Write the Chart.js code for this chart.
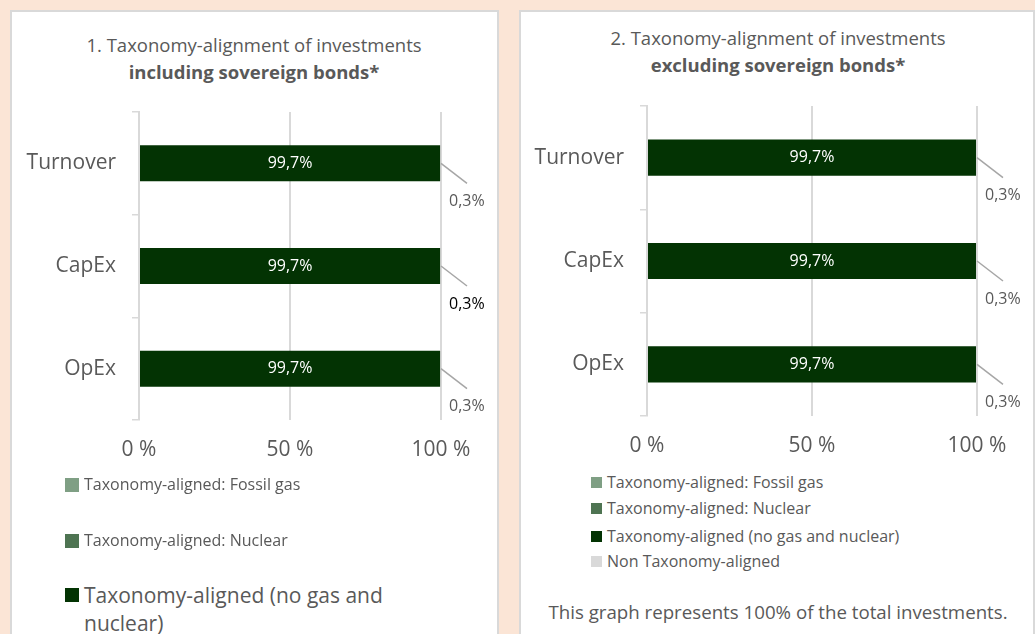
<!DOCTYPE html>
<html>
<head>
<meta charset="utf-8">
<script src="https://cdn.jsdelivr.net/npm/chart.js@4.4.1/dist/chart.umd.min.js"></script>
<style>
  html, body { margin: 0; padding: 0; }
  body { width: 1035px; height: 634px; overflow: hidden; background: #fbe5d6; position: relative; font-family: "Open Sans", sans-serif; color: #595959; }
  .panel { position: absolute; top: 10px; height: 700px; background: #fff; border: 2px solid #d9d9d9; box-sizing: border-box; }
  .title { position: absolute; width: 480px; text-align: center; font-size: 18.5px; line-height: 27px; }
  canvas { position: absolute; }
  .item { position: absolute; white-space: nowrap; }
  .item span.box { position: absolute; left: 0; }
  .note { position: absolute; width: 500px; text-align: center; font-size: 18.7px; line-height: 24px; }
</style>
</head>
<body>
<div class="panel" style="left:10px;width:489px;"></div>
<div class="panel" style="left:519px;width:516px;"></div>

<div class="title" style="left:14px;top:31px;">1. Taxonomy-alignment of investments<br><b>including sovereign bonds*</b></div>
<div class="title" style="left:538px;top:24px;">2. Taxonomy-alignment of investments<br><b>excluding sovereign bonds*</b></div>

<canvas id="c1" width="484" height="380" style="left:12px;top:96px;"></canvas>
<canvas id="c2" width="512" height="380" style="left:521px;top:90px;"></canvas>

<div id="legend1"></div>
<div id="legend2"></div>
<div class="note" style="left:528px;top:600px;">This graph represents 100% of the total investments.</div>

<script>
const categories = ['Turnover', 'CapEx', 'OpEx'];
const seriesNames = [
  'Taxonomy-aligned: Fossil gas',
  'Taxonomy-aligned: Nuclear',
  'Taxonomy-aligned (no gas and nuclear)',
  'Non Taxonomy-aligned'
];
const seriesColors = ['#7f9f84', '#4e7452', '#033303', '#d9d9d9'];
const xTicks = [0, 50, 100];

// 1. including sovereign bonds
const incFossil = [0, 0, 0];
const incNuclear = [0, 0, 0];
const incAligned = [99.7, 99.7, 99.7];
const incNon = [0.3, 0.3, 0.3];

// 2. excluding sovereign bonds
const excFossil = [0, 0, 0];
const excNuclear = [0, 0, 0];
const excAligned = [99.7, 99.7, 99.7];
const excNon = [0.3, 0.3, 0.3];

Chart.defaults.font.family = '"Open Sans", sans-serif';
Chart.defaults.color = '#595959';

const fmt = v => String(v).replace('.', ',') + '%';

// labels inside the bars and the small ones with a leader line
const barLabels = {
  id: 'barLabels',
  afterDatasetsDraw(chart, args, opts) {
    const ctx = chart.ctx;
    ctx.save();
    ctx.font = '16px "Open Sans", sans-serif';
    ctx.textBaseline = 'middle';
    chart.getDatasetMeta(2).data.forEach((bar, i) => {
      ctx.fillStyle = '#ffffff';
      ctx.textAlign = 'center';
      ctx.fillText(fmt(chart.data.datasets[2].data[i]), (bar.x + bar.base) / 2, bar.y);
    });
    chart.getDatasetMeta(3).data.forEach((bar, i) => {
      ctx.strokeStyle = '#a6a6a6';
      ctx.lineWidth = 1.5;
      ctx.beginPath();
      ctx.moveTo(bar.x, bar.y);
      ctx.lineTo(bar.x + 26, bar.y + 20);
      ctx.stroke();
      ctx.fillStyle = opts.smallColors[i];
      ctx.textAlign = 'left';
      ctx.fillText(fmt(chart.data.datasets[3].data[i]), bar.x + 8, bar.y + 38);
    });
    ctx.restore();
  }
};

function makeChart(id, values, yWidth, xHeight, pad, smallColors) {
  return new Chart(document.getElementById(id), {
    type: 'bar',
    data: {
      labels: categories,
      datasets: values.map((v, i) => ({
        label: seriesNames[i],
        data: v,
        backgroundColor: seriesColors[i],
        borderWidth: 0,
        barPercentage: 0.35,
        categoryPercentage: 1
      }))
    },
    options: {
      indexAxis: 'y',
      responsive: false,
      animation: false,
      devicePixelRatio: 1,
      layout: { padding: pad },
      plugins: {
        legend: { display: false },
        tooltip: { enabled: false },
        barLabels: { smallColors }
      },
      scales: {
        x: {
          stacked: true,
          min: 0,
          max: 100,
          afterBuildTicks: s => { s.ticks = xTicks.map(v => ({ value: v })); },
          afterFit: s => { s.height = xHeight; },
          ticks: { callback: v => v + ' %', font: { size: 21 }, padding: 17, maxRotation: 0 },
          grid: { color: '#d9d9d9', lineWidth: 2, drawTicks: false },
          border: { display: false }
        },
        y: {
          stacked: true,
          afterFit: s => { s.width = yWidth; s.paddingTop = 0; s.paddingBottom = 0; },
          ticks: { font: { size: 21 }, padding: 16 },
          grid: { offset: true, drawOnChartArea: false, drawTicks: true, tickLength: 7, color: '#d9d9d9', lineWidth: 1.5 },
          border: { display: true, color: '#d9d9d9', width: 2 }
        }
      }
    },
    plugins: [barLabels]
  });
}

makeChart('c1', [incFossil, incNuclear, incAligned, incNon], 127, 56,
  { top: 16, right: 55, left: 0, bottom: 0 }, ['#595959', '#000000', '#595959']);
makeChart('c2', [excFossil, excNuclear, excAligned, excNon], 126, 54,
  { top: 16, right: 56, left: 0, bottom: 0 }, ['#595959', '#595959', '#595959']);

// legends (HTML), built from the series arrays
function legendItem(parent, i, left, top, box, size, width) {
  const lh = Math.round(size * 1.33);
  const d = document.createElement('div');
  d.className = 'item';
  d.style.left = left + 'px';
  d.style.top = top + 'px';
  d.style.paddingLeft = (box + 5) + 'px';
  d.style.fontSize = size + 'px';
  d.style.lineHeight = lh + 'px';
  if (width) { d.style.whiteSpace = 'normal'; d.style.width = width + 'px'; }
  const b = document.createElement('span');
  b.className = 'box';
  b.style.width = box + 'px';
  b.style.height = box + 'px';
  b.style.background = seriesColors[i];
  b.style.top = Math.round((lh - box) / 2) + 'px';
  d.appendChild(b);
  d.appendChild(document.createTextNode(seriesNames[i]));
  parent.appendChild(d);
}
const l1 = document.getElementById('legend1');
legendItem(l1, 0, 65, 474, 14, 16);
legendItem(l1, 1, 65, 530, 14, 16);
legendItem(l1, 2, 65, 581, 14, 21, 330);
legendItem(l1, 3, 65, 670, 14, 16);
const l2 = document.getElementById('legend2');
[472, 498, 526, 551].forEach((t, i) => legendItem(l2, i, 591, t, 11, 16));
</script>
</body>
</html>
